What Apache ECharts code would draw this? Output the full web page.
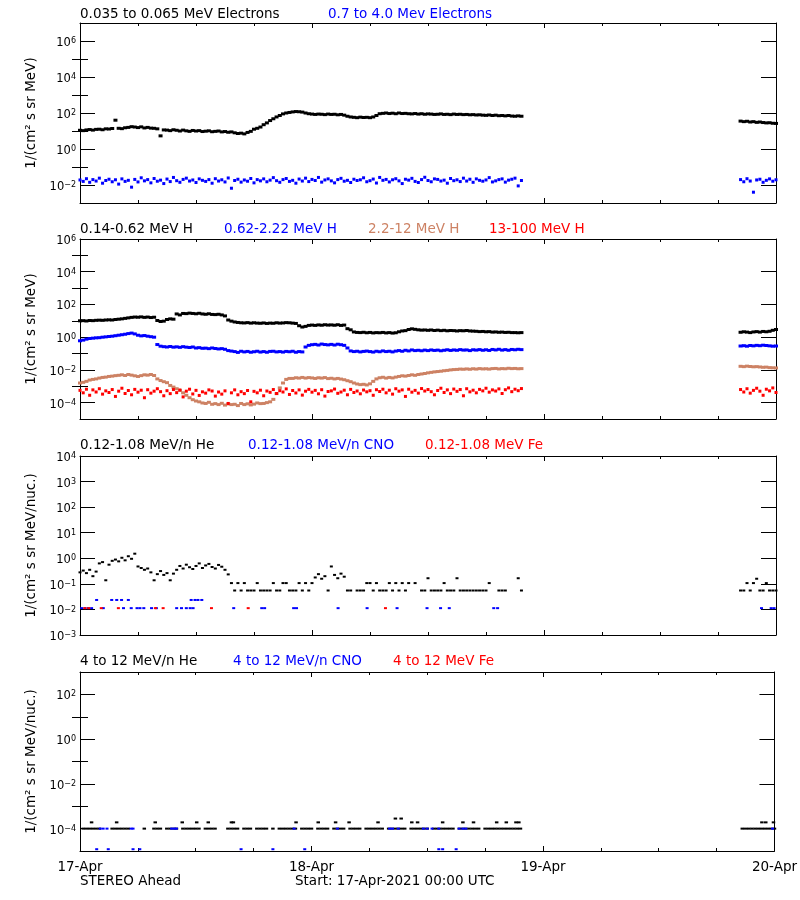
<!DOCTYPE html>
<html><head><meta charset="utf-8">
<script src="https://cdn.jsdelivr.net/npm/echarts@6/dist/echarts.min.js"></script>
<style>html,body{margin:0;padding:0;background:#fff}#c{width:800px;height:900px}</style>
</head><body><div id="c"></div>
<script>
const _ = null;
// ---------- time base (hours since 17-Apr-2021 00:00 UTC) ----------
const xTickLabels = ['17-Apr', '18-Apr', '19-Apr', '20-Apr'];
const CADENCE_H = 1 / 3;              // 20-minute samples
const SEG_A_START_H = 0;              // first data segment
const SEG_B_START_H = 68 + 1 / 3;     // data resumes after gap

// ---------- titles / labels ----------
const p1Titles = ['0.035 to 0.065 MeV Electrons', '0.7 to 4.0 Mev Electrons'];
const p2Titles = ['0.14-0.62 MeV H', '0.62-2.22 MeV H', '2.2-12 MeV H', '13-100 MeV H'];
const p3Titles = ['0.12-1.08 MeV/n He', '0.12-1.08 MeV/n CNO', '0.12-1.08 MeV Fe'];
const p4Titles = ['4 to 12 MeV/n He', '4 to 12 MeV/n CNO', '4 to 12 MeV Fe'];
const yTitles = ['1/(cm² s sr MeV)', '1/(cm² s sr MeV)', '1/(cm² s sr MeV/nuc.)', '1/(cm² s sr MeV/nuc.)'];
const footLeft = 'STEREO Ahead';
const footStart = 'Start: 17-Apr-2021 00:00 UTC';

// ---------- panel 1: electrons, log10 flux ----------
const eLowA = [
 1.04,1.02,1.06, 1.08,1.05,1.09, 1.10,1.07,1.12, 1.11,1.14,1.60,
 1.15,1.13,1.18, 1.20,1.24,1.22, 1.19,1.23,1.17, 1.20,1.16,1.15,
 1.12,0.73,1.06, 1.05,1.02,1.07, 1.04,1.00,1.05, 1.01,0.98,1.03,
 1.00,1.02,0.97, 0.99,1.01,0.96, 0.98,1.00,0.95, 0.97,0.93,0.95,
 0.90,0.86,0.88, 0.84,0.92,0.98, 1.10,1.15,1.22, 1.35,1.45,1.58,
 1.68,1.78,1.86, 1.95,2.00,2.03, 2.06,2.08,2.07, 2.05,2.00,1.96,
 1.94,1.92,1.94, 1.93,1.91,1.94, 1.92,1.93,1.90, 1.92,1.88,1.82,
 1.78,1.76,1.74, 1.77,1.75,1.76, 1.74,1.78,1.86, 1.96,1.98,2.00,
 1.97,1.99,1.96, 2.00,1.97,1.98, 1.96,1.95,1.97, 1.94,1.96,1.93,
 1.95,1.94,1.92, 1.93,1.95,1.92, 1.93,1.91,1.94, 1.92,1.93,1.91,
 1.92,1.90,1.91, 1.89,1.90,1.88, 1.87,1.89,1.86, 1.88,1.85,1.86,
 1.84,1.86,1.83, 1.82,1.84,1.82];
const eLowB = [1.55,1.52,1.54,1.50,1.52,1.48,1.50,1.47,1.45,1.46,1.43,1.42];
const eHighA = [
 -1.72,-1.80,-1.65, -1.85,-1.70,-1.78, -1.62,-1.90,-1.75, -1.68,-1.82,-1.71,
 -1.95,-1.66,-1.80, -1.74,-2.12,-1.69, -1.83,-1.60,-1.77, -1.70,-1.88,-1.64,
 -1.79,-1.73,-1.92, -1.67,-1.81,-1.58, -1.76,-1.85,-1.69, -1.62,-1.78,-1.72,
 -1.86,-1.66,-1.74, -1.80,-1.70,-1.90, -1.65,-1.78,-1.71, -1.83,-1.61,-2.18,
 -1.75,-1.68,-1.84, -1.72,-1.79,-1.64, -1.88,-1.70,-1.77, -1.66,-1.82,-1.73,
 -1.59,-1.76,-1.85, -1.70,-1.64,-1.80, -1.74,-1.90,-1.67, -1.78,-1.62,-1.81,
 -1.69,-1.75,-1.58, -1.84,-1.72,-1.66, -1.77,-1.88,-1.70, -1.63,-1.79,-1.74,
 -1.86,-1.68,-1.75, -1.71,-1.60,-1.82, -1.76,-1.67,-1.89, -1.58,-1.74,-1.69,
 -1.83,-1.71,-1.65, -1.77,-1.92,-1.68, -1.73,-1.63,-1.80, -1.86,-1.70,-1.57,
 -1.75,-1.82,-1.66, -1.69,-1.78,-1.73, -1.90,-1.64,-1.76, -1.71,-1.81,-1.62,
 -1.78,-1.68,-1.85, -1.66,-1.74,-1.79, -1.72,-1.59,-1.83, -1.77,-1.70,-1.66,
 -1.84,-1.73,-1.68, -1.62,-2.05,-1.75];
const eHighB = [-1.70,-1.82,-1.65,-1.78,-2.40,-1.72,-1.68,-1.85,-1.74,-1.66,-1.79,-1.71];

// ---------- panel 2: protons, log10 flux ----------
const hLowA = [
 1.00,1.01,0.99, 1.02,1.01,1.03, 1.04,1.03,1.05, 1.06,1.05,1.08,
 1.10,1.12,1.15, 1.18,1.21,1.23, 1.22,1.24,1.21, 1.23,1.20,1.22,
 1.02,0.96,0.98, 1.08,1.12,1.10, 1.42,1.36,1.45, 1.44,1.47,1.45,
 1.43,1.46,1.42, 1.40,1.43,1.39, 1.38,1.40,1.36, 1.30,1.05,0.98,
 0.93,0.90,0.88, 0.87,0.89,0.86, 0.88,0.86,0.85, 0.87,0.84,0.86,
 0.85,0.88,0.86, 0.87,0.89,0.88, 0.86,0.84,0.70, 0.62,0.66,0.72,
 0.74,0.72,0.75, 0.73,0.76,0.74, 0.75,0.73,0.76, 0.72,0.74,0.52,
 0.45,0.32,0.29, 0.28,0.30,0.27, 0.29,0.26,0.28, 0.27,0.29,0.26,
 0.28,0.25,0.27, 0.33,0.38,0.40, 0.47,0.51,0.48, 0.45,0.43,0.44,
 0.42,0.44,0.41, 0.43,0.40,0.42, 0.39,0.41,0.40, 0.38,0.40,0.39,
 0.41,0.38,0.37, 0.36,0.34,0.35, 0.33,0.34,0.31, 0.32,0.30,0.31,
 0.29,0.30,0.28, 0.28,0.27,0.28];
const hLowB = [0.30,0.33,0.31,0.28,0.32,0.34,0.31,0.35,0.33,0.36,0.42,0.47];
const hMidA = [
 -0.22,-0.18,-0.12, -0.08,-0.06,-0.04, -0.03,0.00,0.02, 0.04,0.06,0.09,
 0.12,0.15,0.18, 0.22,0.25,0.20, 0.12,0.08,0.10, 0.06,0.03,0.00,
 -0.45,-0.55,-0.58, -0.60,-0.57,-0.61, -0.59,-0.62,-0.58, -0.61,-0.63,-0.60,
 -0.66,-0.64,-0.68, -0.67,-0.70,-0.66, -0.69,-0.72,-0.70, -0.74,-0.82,-0.85,
 -0.88,-0.93,-0.86, -0.90,-0.87,-0.92, -0.89,-0.86,-0.91, -0.88,-0.92,-0.87,
 -0.86,-0.90,-0.88, -0.91,-0.87,-0.89, -0.86,-0.92,-0.88, -0.90,-0.60,-0.50,
 -0.46,-0.44,-0.48, -0.42,-0.45,-0.47, -0.44,-0.48,-0.43, -0.46,-0.50,-0.66,
 -0.84,-0.88,-0.86, -0.90,-0.87,-0.85, -0.88,-0.91,-0.86, -0.89,-0.84,-0.88,
 -0.86,-0.90,-0.85, -0.82,-0.86,-0.80, -0.84,-0.78,-0.82, -0.80,-0.83,-0.79,
 -0.82,-0.78,-0.81, -0.79,-0.83,-0.80, -0.77,-0.81,-0.78, -0.80,-0.76,-0.79,
 -0.78,-0.82,-0.77, -0.79,-0.76,-0.80, -0.77,-0.81,-0.75, -0.78,-0.74,-0.79,
 -0.76,-0.80,-0.75, -0.77,-0.74,-0.76];
const hMidB = [-0.54,-0.52,-0.55,-0.51,-0.53,-0.50,-0.52,-0.49,-0.51,-0.53,-0.55,-0.54];
const hHighA = [
 -2.80,-2.76,-2.70, -2.62,-2.58,-2.55, -2.50,-2.46,-2.44, -2.40,-2.38,-2.35,
 -2.33,-2.30,-2.34, -2.28,-2.32,-2.36, -2.40,-2.35,-2.30, -2.32,-2.28,-2.34,
 -2.55,-2.65,-2.72, -2.78,-2.95,-3.05, -3.15,-3.25,-3.40, -3.55,-3.70,-3.82,
 -3.90,-3.95,-4.02, -4.05,-3.98,-4.10, -4.06,-4.12,-4.04, -4.15,-4.08,-4.12,
 -4.10,-4.18,-4.05, -4.12,-4.07,-4.14, -4.09,-4.02,-4.06, -4.05,-4.00,-3.95,
 -3.80,-3.45,-3.10, -2.80,-2.58,-2.52, -2.52,-2.48,-2.50, -2.46,-2.50,-2.47,
 -2.49,-2.52,-2.48, -2.50,-2.47,-2.53, -2.51,-2.55,-2.52, -2.56,-2.60,-2.66,
 -2.72,-2.80,-2.86, -2.90,-2.88,-2.92, -2.85,-2.70,-2.55, -2.48,-2.45,-2.50,
 -2.46,-2.49,-2.44, -2.40,-2.36,-2.38, -2.34,-2.30,-2.33, -2.28,-2.25,-2.22,
 -2.18,-2.15,-2.12, -2.10,-2.08,-2.05, -2.03,-2.00,-1.98, -1.97,-1.95,-1.96,
 -1.94,-1.96,-1.93, -1.95,-1.92,-1.94, -1.93,-1.95,-1.92, -1.91,-1.94,-1.92,
 -1.93,-1.90,-1.92, -1.91,-1.93,-1.92];
const hHighB = [-1.78,-1.80,-1.77,-1.79,-1.81,-1.80,-1.82,-1.84,-1.83,-1.86,-1.87,-1.88];
const hVHighA = [
 -3.25,-3.40,-3.18, -3.55,-3.22,-3.35, -3.15,-3.48,-3.28, -3.38,-3.20,-3.62,
 -3.30,-3.12,-3.44, -3.26,-3.52,-3.19, -3.36,-3.24,-3.70, -3.21,-3.42,-3.30,
 -3.15,-3.33,-3.58, -3.27,-3.45,-3.20, -3.39,-3.23,-3.65, -3.30,-3.18,-3.47,
 -3.25,-3.56,-3.34, -3.42,-3.22,-3.29, -3.60,-3.35,-3.48, -3.28,-4.05,-3.40,
 -3.22,-3.52,-3.33, -3.45,-3.26,-3.95, -3.31,-3.40,-3.24, -3.58,-3.29,-3.37,
 -3.20,-3.44,-3.27, -3.35,-3.16,-3.50, -3.26,-3.41,-3.22, -3.54,-3.30,-3.19,
 -3.36,-3.25,-3.46, -3.21,-3.60,-3.32, -3.28,-3.17,-3.43, -3.35,-3.24,-3.52,
 -3.19,-3.38,-3.29, -3.46,-3.23,-3.34, -3.27,-3.55,-3.21, -3.32,-3.18,-3.40,
 -3.24,-3.48,-3.15, -3.30,-3.22,-3.62, -3.18,-3.36,-3.25, -3.42,-3.14,-3.29,
 -3.20,-3.33,-3.52, -3.26,-3.12,-3.38, -3.22,-3.45,-3.17, -3.31,-3.20,-3.58,
 -3.15,-3.34,-3.24, -3.40,-3.19,-3.28, -3.12,-3.36,-3.22, -3.29,-3.16,-3.44,
 -3.21,-3.10,-3.33, -3.18,-3.27,-3.14];
const hVHighB = [-3.20,-3.35,-3.15,-3.42,-3.25,-3.12,-3.30,-3.55,-3.18,-3.28,-3.10,-3.38];

// ---------- panel 3: 0.12-1.08 MeV/n ions, log10 flux ----------
const he3A = [
 -0.55,-0.48,-0.58, -0.45,-0.70,-0.52, -0.20,-0.15,-0.86, -0.25,-0.10,-0.05,
 -0.12,0.02,-0.08, 0.08,-0.02,0.18, -0.32,-0.38,-0.45, -0.40,-0.55,-0.86,
 -0.62,-0.50,-0.65, -0.58,-0.86,-0.60, -0.45,-0.30,-0.40, -0.25,-0.35,-0.42,
 -0.30,-0.20,-0.38, -0.28,-0.22,-0.34, -0.40,-0.26,-0.33, -0.45,-0.63,-0.97,
 -1.26,-0.97,-1.26, -0.97,-1.26,-1.26, -1.26,-0.97,-1.26, -1.26,-1.26,-1.26,
 -0.97,-1.26,-1.26, -0.97,-0.97,-1.26, -1.26,-1.26,-0.97, -1.26,-0.97,-1.26,
 -0.97,-0.75,-0.62, -0.80,-0.70,-1.26, -0.32,-0.65,-0.78, -0.60,-0.72,-1.26,
 -1.26,_,-1.26, -1.26,-1.26,-0.97, -0.97,-1.26,-0.97, -1.26,-1.26,-1.26,
 -0.97,-1.26,-0.97, -1.26,-0.97,-1.26, -0.97,_,-0.97, _,-1.26,-1.26,
 -0.78,-1.26,-1.26, -1.26,-1.26,-0.97, -1.26,-1.26,-1.26, -0.78,-1.26,-1.26,
 -1.26,-1.26,-1.26, -1.26,-1.26,-1.26, -1.26,-0.97,_, _,-1.26,-1.26,
 -1.26,_,_, _,-0.78,-1.26];
const he3B = [-1.26,-1.26,-0.97,-1.26,-0.97,-0.80,-1.26,-1.26,-0.97,-1.26,-1.26,-1.26];
const cno3 = [[0.17,-1.95],[0.52,-1.95],[0.86,-1.95],[1.2,-1.95],[1.72,-1.63],[2.41,-1.95],
 [3.28,-1.63],[3.8,-1.63],[4.3,-1.63],[4.5,-1.95],[5.0,-1.63],[5.3,-1.95],[5.9,-1.95],[6.2,-1.95],
 [6.6,-1.95],[7.4,-1.95],[7.9,-1.95],[10.0,-1.95],[10.5,-1.95],[11.0,-1.95],[11.4,-1.95],[11.5,-1.63],
 [11.7,-1.95],[11.9,-1.63],[12.2,-1.63],[12.6,-1.63],[15.9,-1.95],[18.8,-1.95],[19.1,-1.95],[22.1,-1.95],
 [22.4,-1.95],[26.7,-1.95],[29.7,-1.95],[32.8,-1.95],[35.9,-1.95],[37.3,-1.95],[38.2,-1.95],[42.8,-1.95],
 [43.2,-1.95],[70.5,-1.95],[71.5,-1.95],[71.8,-1.95]];
const fe3 = [[0.5,-1.95],[0.9,-1.95],[2.2,-1.95],[3.97,-1.95],[7.8,-1.95],[8.6,-1.95],[13.6,-1.95],[17.4,-1.95],[31.6,-1.95]];

// ---------- panel 4: 4-12 MeV/n ions, log10 flux ----------
const he4A = [
 _,-4,-4, -4,-4,-4, -4,_,_, _,-4,-4, -4,-4,-4, -4,_,_, _,_,-4, _,_,-4,
 -4,-4,_, -4,-4,-4, -4,_,-4, -4,-4,-4, -4,-4,_, -4,-4,-4, -4,_,_, _,-4,-4,
 -4,-4,_, -4,-4,-4, _,-4,-4, -4,-4,_, -4,_,-4, -4,-4,-4, -4,-4,_, -4,-4,-4,
 -4,_,-4, -4,-4,-4, _,-4,-4, -4,-4,_, -4,-4,-4, -4,_,-4, -4,-4,-4, -4,-4,_,
 -4,-4,-4, -4,-4,-4, _,-4,-4, -4,-4,-4, -4,_,-4, -4,-4,-4, -4,-4,-4, _,-4,-4,
 -4,-4,-4, -4,-4,_, -4,-4,-4, -4,-4,-4, -4,-4,-4, -4,-4,-4];
const he4B = [_,-4,-4,-4,-4,-4,-4,-4,-4,-4,-4,-4];
const he4Extra = [[1.2,-3.72],[3.8,-3.72],[7.8,-3.72],[10.6,-3.72],[12.1,-3.72],[13.3,-3.72],[15.7,-3.72],
 [15.9,-3.72],[22.4,-3.72],[24.7,-3.72],[26.5,-3.72],[27.9,-3.72],[30.9,-3.72],[32.7,-3.55],[33.3,-3.55],
 [34.4,-3.72],[35.0,-3.72],[37.6,-3.72],[39.7,-3.72],[40.8,-3.72],[43.2,-3.72],[44.2,-3.72],[45.2,-3.72],
 [45.5,-3.72],[70.7,-3.72],[71.1,-3.72],[71.9,-3.72]];
const cno4 = [[2.1,-4],[2.4,-4],[2.8,-4],[5.3,-4],[5.5,-4],[9.5,-4],[9.8,-4],[10.0,-4],[22.2,-4],[26.7,-4],
 [32.1,-4],[32.4,-4],[33.0,-4],[35.6,-4],[36.0,-4],[36.5,-4],[37.2,-4],[39.3,-4],[39.7,-4],[40.0,-4],[71.8,-4],
 [1.73,-4.92],[2.93,-4.92],[5.5,-4.92],[6.2,-4.92],[16.7,-4.92],[20.0,-4.92],[23.3,-4.92],[37.2,-4.92],
 [37.6,-4.92],[39.0,-4.92]];
const fe4 = [];

// ---------- y-axis exponent ranges / tick exponents ----------
const yRanges = [[-3, 7], [-5, 6], [-3, 4], [-5, 3]];
const yMajorExp = [[-2, 0, 2, 4, 6], [-4, -2, 0, 2, 4, 6], [-3, -2, -1, 0, 1, 2, 3, 4], [-4, -2, 0, 2]];
const yMinorExp = [[-1, 1, 3, 5], [-3, -1, 1, 3, 5], [], [-3, -1, 1]];

// ================= build chart =================
const FONT = '"DejaVu Sans", sans-serif';
const C_BLACK = '#000000', C_BLUE = '#0000ff', C_BROWN = '#cd8264', C_RED = '#ff0000';
const gridTops = [23, 239, 456, 672];
const gridHeights = [180, 180, 179, 179];

function seg(arr, start) {
  const out = [];
  arr.forEach((v, i) => { if (v !== null) out.push([start + i * CADENCE_H, v]); });
  return out;
}
function both(a, b) { return seg(a, SEG_A_START_H).concat(seg(b, SEG_B_START_H)); }
function expLabel(v) {
  const s = v < 0 ? '\u2212' + (-v) : String(v);
  return '{b|10}{s|' + s + '}';
}

const grid = [], xAxis = [], yAxis = [], series = [];
for (let g = 0; g < 4; g++) {
  grid.push({ left: 80, width: 696, top: gridTops[g], height: gridHeights[g] });
  const xb = {
    gridIndex: g, type: 'value', min: 0, max: 72, interval: 24,
    axisLine: { show: true, onZero: false, lineStyle: { color: '#000', width: 1 } },
    axisTick: { show: true, inside: true, length: 5, lineStyle: { color: '#000' } },
    minorTick: { show: true, splitNumber: 4, length: 3, lineStyle: { color: '#000' } },
    splitLine: { show: false }, minorSplitLine: { show: false }
  };
  xAxis.push(Object.assign({}, xb, {
    position: 'bottom',
    axisLabel: g === 3 ? {
      show: true, margin: 9, color: '#000', fontFamily: FONT, fontSize: 13.5,
      formatter: v => xTickLabels[Math.round(v / 24)] || ''
    } : { show: false }
  }));
  xAxis.push(Object.assign({}, xb, { position: 'top', axisLabel: { show: false } }));

  const yb = { gridIndex: g, type: 'value', min: yRanges[g][0], max: yRanges[g][1], splitLine: { show: false } };
  yAxis.push(Object.assign({}, yb, {
    position: 'left',
    axisLine: { show: true, onZero: false, lineStyle: { color: '#000' } },
    axisTick: { show: true, inside: true, length: 15, customValues: yMajorExp[g], lineStyle: { color: '#000' } },
    axisLabel: {
      show: true, customValues: yMajorExp[g], margin: 4, padding: [4, 0, 0, 0],
      formatter: expLabel,
      rich: {
        b: { fontFamily: FONT, fontSize: 11.5, color: '#000', lineHeight: 12 },
        s: { fontFamily: FONT, fontSize: 8, color: '#000', lineHeight: 8, verticalAlign: 'top' }
      }
    },
    name: yTitles[g], nameLocation: 'middle', nameGap: 33, nameRotate: 90,
    nameTextStyle: { fontFamily: FONT, fontSize: 13.5, color: '#000' }
  }));
  yAxis.push(Object.assign({}, yb, {
    position: 'left', axisLine: { show: false },
    axisTick: { show: yMinorExp[g].length > 0, inside: true, length: 8, customValues: yMinorExp[g], lineStyle: { color: '#000' } },
    axisLabel: { show: false }
  }));
  yAxis.push(Object.assign({}, yb, {
    position: 'right',
    axisLine: { show: true, onZero: false, lineStyle: { color: '#000' } },
    axisTick: { show: true, inside: true, length: 15, customValues: yMajorExp[g], lineStyle: { color: '#000' } },
    axisLabel: { show: false }
  }));
  yAxis.push(Object.assign({}, yb, {
    position: 'right', axisLine: { show: false },
    axisTick: { show: yMinorExp[g].length > 0, inside: true, length: 8, customValues: yMinorExp[g], lineStyle: { color: '#000' } },
    axisLabel: { show: false }
  }));
}

function add(g, data, color, size) {
  series.push({
    type: 'scatter', xAxisIndex: g * 2, yAxisIndex: g * 4, data: data,
    symbol: 'rect', symbolSize: size, itemStyle: { color: color, opacity: 1 },
    silent: true, animation: false, clip: true
  });
}
add(0, both(eLowA, eLowB), C_BLACK, [4, 3]);
add(0, both(eHighA, eHighB), C_BLUE, [3, 3]);
add(1, both(hLowA, hLowB), C_BLACK, [4, 3]);
add(1, both(hMidA, hMidB), C_BLUE, [4, 3]);
add(1, both(hHighA, hHighB), C_BROWN, [4, 3]);
add(1, both(hVHighA, hVHighB), C_RED, [3, 3]);
add(2, both(he3A, he3B), C_BLACK, [3, 2]);
add(2, cno3, C_BLUE, [3, 2]);
add(2, fe3, C_RED, [3, 2]);
add(3, both(he4A, he4B).concat(he4Extra), C_BLACK, [3.5, 2]);
add(3, cno4, C_BLUE, [3, 2]);
add(3, fe4, C_RED, [3, 2]);

function txt(str, x, y, color) {
  return { type: 'text', x: x, y: y, silent: true,
    style: { text: str, fill: color, font: '13.5px ' + FONT, textVerticalAlign: 'middle', verticalAlign: 'middle' } };
}
const graphic = [
  txt(p1Titles[0], 80, 14, C_BLACK), txt(p1Titles[1], 328, 14, C_BLUE),
  txt(p2Titles[0], 80, 229.5, C_BLACK), txt(p2Titles[1], 224, 229.5, C_BLUE),
  txt(p2Titles[2], 368, 229.5, C_BROWN), txt(p2Titles[3], 489, 229.5, C_RED),
  txt(p3Titles[0], 80, 445, C_BLACK), txt(p3Titles[1], 248, 445, C_BLUE), txt(p3Titles[2], 425, 445, C_RED),
  txt(p4Titles[0], 80, 661.5, C_BLACK), txt(p4Titles[1], 233, 661.5, C_BLUE), txt(p4Titles[2], 393, 661.5, C_RED),
  txt(footLeft, 80, 881, C_BLACK), txt(footStart, 295, 881, C_BLACK)
];

const chart = echarts.init(document.getElementById('c'), null, { renderer: 'canvas' });
chart.setOption({
  backgroundColor: '#ffffff',
  animation: false,
  grid: grid, xAxis: xAxis, yAxis: yAxis, series: series, graphic: graphic
});
</script>
</body></html>
